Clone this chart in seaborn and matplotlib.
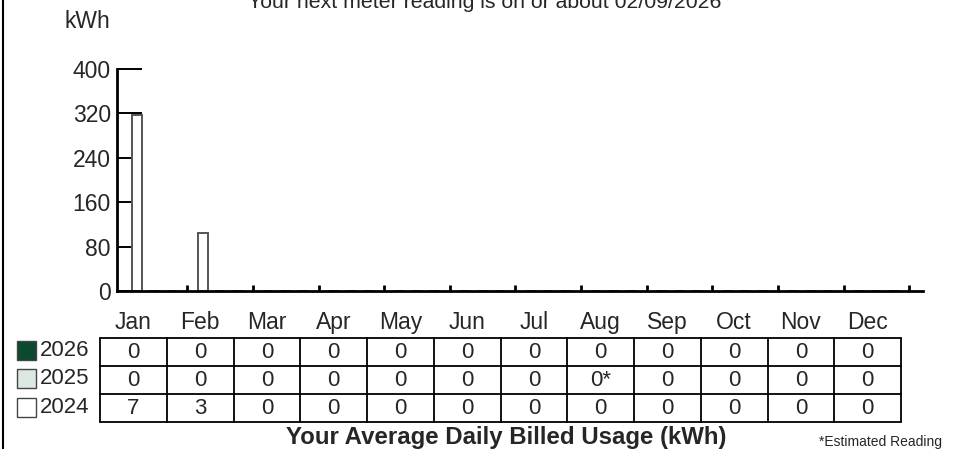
import numpy as np
import pandas as pd
import matplotlib
matplotlib.use("Agg")
import matplotlib.pyplot as plt
from matplotlib import font_manager as fm
import seaborn as sns
from matplotlib.patches import Rectangle
from matplotlib.lines import Line2D

months = ["Jan", "Feb", "Mar", "Apr", "May", "Jun", "Jul", "Aug", "Sep", "Oct", "Nov", "Dec"]
years = ["2024", "2025", "2026"]
kwh_2024 = [318, 104, 0, 0, 0, 0, 0, 0, 0, 0, 0, 0]
kwh_2025 = [0, 0, 0, 0, 0, 0, 0, 0, 0, 0, 0, 0]
kwh_2026 = [0, 0, 0, 0, 0, 0, 0, 0, 0, 0, 0, 0]
avg_2026 = ["0", "0", "0", "0", "0", "0", "0", "0", "0", "0", "0", "0"]
avg_2025 = ["0", "0", "0", "0", "0", "0", "0", "0*", "0", "0", "0", "0"]
avg_2024 = ["7", "3", "0", "0", "0", "0", "0", "0", "0", "0", "0", "0"]
yticks = [0, 80, 160, 240, 320, 400]
colors = {"2026": "#0b4a2e", "2025": "#dce9e2", "2024": "#ffffff"}
title = "Your next meter reading is on or about 02/09/2026"
footer = "Your Average Daily Billed Usage (kWh)"
note = "*Estimated Reading"

sns.set_theme(style="white")
plt.rcParams["font.family"] = ["Liberation Sans", "DejaVu Sans"]

installed = {f.name for f in fm.fontManager.ttflist}
if "Liberation Sans Narrow" in installed:
    narrow = ["Liberation Sans Narrow", "Liberation Sans", "DejaVu Sans"]
    nsize = 17
else:
    narrow = ["Liberation Sans", "DejaVu Sans"]
    nsize = 16

df = pd.DataFrame({
    "month": months * 3,
    "year": ["2024"] * 12 + ["2025"] * 12 + ["2026"] * 12,
    "kwh": kwh_2024 + kwh_2025 + kwh_2026,
})

W, H = 955, 449
fig = plt.figure(figsize=(W / 100, H / 100), dpi=100)
fig.patch.set_facecolor("white")

def fx(px):
    return px / W

def fy(py):
    return 1 - py / H

ax = fig.add_axes([fx(117), fy(291), fx(923) - fx(117), fy(69) - fy(291)])
sns.barplot(data=df, x="month", y="kwh", hue="year", order=months,
            hue_order=years, palette=colors, width=0.8, gap=0.43,
            edgecolor="#555555", linewidth=1.4, ax=ax, legend=False)
ax.set_xlim(-0.57, 11.71)
ax.set_ylim(0, 400)
ax.set_yticks(yticks)
ax.set_yticklabels([str(v) for v in yticks], fontsize=16.5)
ax.set_xticks(np.arange(12) + 0.5)
ax.set_xticklabels([])
ax.tick_params(axis="y", direction="in", length=18, width=1.4, color="black", pad=4.5, left=True)
ax.tick_params(axis="x", direction="in", length=4.5, width=2.0, color="black", bottom=True)
ax.set_xlabel("")
ax.set_ylabel("")
for s in ["top", "right"]:
    ax.spines[s].set_visible(False)
for s in ["left", "bottom"]:
    ax.spines[s].set_visible(True)
    ax.spines[s].set_color("black")
    ax.spines[s].set_linewidth(2.0)
ax.patch.set_alpha(0)

# table
tab = fig.add_axes([fx(100), fy(421.7), fx(901) - fx(100), fy(337.7) - fy(421.7)])
tab.set_xlim(0, 12)
tab.set_ylim(3, 0)
tab.axis("off")
for i in range(13):
    tab.plot([i, i], [0, 3], color="black", lw=1.3, clip_on=False)
for j in range(4):
    tab.plot([0, 12], [j, j], color="black", lw=1.3, clip_on=False)
rows = [avg_2026, avg_2025, avg_2024]
for r, vals in enumerate(rows):
    for c, v in enumerate(vals):
        tab.text(c + 0.5, r + 0.52, v, ha="center", va="center", fontsize=nsize, family=narrow)
for c, m in enumerate(months):
    tab.text(c + 0.5, -0.55, m, ha="center", va="center", fontsize=16.5, clip_on=False)

# legend
for r, yr in enumerate(["2026", "2025", "2024"]):
    top = 341 + r * 28.3
    fig.add_artist(Rectangle((fx(17), fy(top + 19)), fx(36) - fx(17), (fy(top) - fy(top + 19)),
                             facecolor=colors[yr], edgecolor="#444444", lw=1.0,
                             transform=fig.transFigure))
    fig.text(fx(40), fy(top + 9.5), yr, ha="left", va="center", fontsize=nsize, family=narrow)

fig.text(fx(87), fy(22), "kWh", ha="center", va="center", fontsize=16.5)
fig.text(fx(485), fy(8), title, ha="center", va="baseline", fontsize=15.3)
fig.text(fx(506), fy(444), footer, ha="center", va="baseline", fontsize=17.3, fontweight="bold")
fig.text(fx(942), fy(446), note, ha="right", va="baseline", fontsize=10)

fig.add_artist(Line2D([fx(2.5), fx(2.5)], [0, 1], color="black", lw=1.5, transform=fig.transFigure))

fig.savefig("out.png", dpi=100, facecolor="white")
